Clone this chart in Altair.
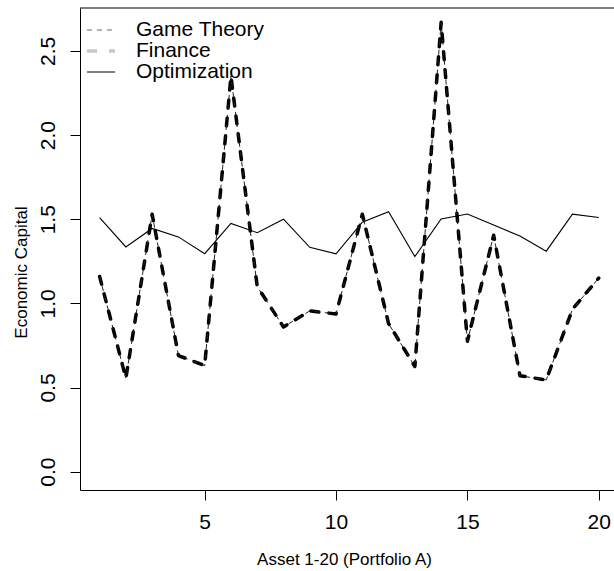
import altair as alt
import pandas as pd

# ---- data ----
x_vals = list(range(1, 21))
game_theory = [1.16, 0.555, 1.53, 0.69, 0.63, 2.35, 1.10, 0.86, 0.955, 0.937,
               1.53, 0.88, 0.625, 2.67, 0.775, 1.405, 0.57, 0.545, 0.965, 1.15]
finance = [1.16, 0.555, 1.53, 0.69, 0.63, 2.35, 1.10, 0.86, 0.955, 0.937,
           1.53, 0.88, 0.625, 2.67, 0.775, 1.405, 0.57, 0.545, 0.965, 1.15]
optimization = [1.51, 1.335, 1.445, 1.395, 1.295, 1.475, 1.42, 1.50, 1.333, 1.294,
                1.482, 1.545, 1.278, 1.502, 1.531, 1.465, 1.40, 1.31, 1.53, 1.51]
series_names = ["Game Theory", "Finance", "Optimization"]
x_ticks = [5, 10, 15, 20]
y_ticks = [0.0, 0.5, 1.0, 1.5, 2.0, 2.5]

df = pd.DataFrame({
    "x": x_vals * 3,
    "value": game_theory + finance + optimization,
    "series": [series_names[0]] * 20 + [series_names[1]] * 20 + [series_names[2]] * 20,
})

FONT = "Liberation Sans"
W, H = 534, 482

x_enc = alt.X(
    "x:Q",
    scale=alt.Scale(domain=[0.254, 20.58], nice=False, zero=False),
    axis=alt.Axis(
        values=x_ticks, title="Asset 1-20 (Portfolio A)", grid=False,
        tickSize=10, labelFontSize=21, labelBaseline="alphabetic", labelPadding=28,
        labelFlush=False, titleFontSize=17, titleBaseline="alphabetic",
        titleX=264, titleY=74, titleAlign="center",
    ),
)
y_enc = alt.Y(
    "value:Q",
    scale=alt.Scale(domain=[-0.109, 2.755], nice=False, zero=False),
    axis=alt.Axis(
        values=y_ticks, format=".1f", title="Economic Capital", grid=False,
        tickSize=10, labelFontSize=21, labelAngle=270, labelAlign="center",
        labelBaseline="alphabetic", labelPadding=16, labelFlush=False,
        titleFontSize=17, titleAngle=270, titleAlign="center",
        titleBaseline="alphabetic", titleX=-54, titleY=264,
    ),
)

base = alt.Chart(df).encode(x=x_enc, y=y_enc)

finance_line = base.transform_filter(alt.datum.series == "Finance").mark_line(
    color="black", strokeWidth=3.5, strokeDash=[8, 10], strokeCap="round", strokeJoin="round"
)
gt_line = base.transform_filter(alt.datum.series == "Game Theory").mark_line(
    color="#222222", strokeWidth=1, strokeDash=[5, 5]
)
opt_line = base.transform_filter(alt.datum.series == "Optimization").mark_line(
    color="black", strokeWidth=1.1
)

leg = alt.Legend(
    orient="none", legendX=5, legendY=12, title=None, padding=0,
    symbolType="stroke", symbolSize=784, clipHeight=20, rowPadding=0,
    labelOffset=19, labelFontSize=21, labelFont=FONT, labelColor="black",
    labelLimit=400,
)
legend_layer = base.transform_filter("datum.value < -10").mark_line().encode(
    color=alt.Color("series:N", scale=alt.Scale(domain=series_names,
                    range=["#666666", "#c8c8c8", "#000000"]), legend=leg),
    strokeDash=alt.StrokeDash("series:N", scale=alt.Scale(domain=series_names,
                    range=[[5, 5], [10, 12], [1, 0]]), legend=leg),
    strokeWidth=alt.StrokeWidth("series:N", scale=alt.Scale(type="ordinal", domain=series_names,
                    range=[1, 3.5, 1.2]), legend=leg),
)

top_rule = alt.Chart(pd.DataFrame({"k": [0]})).mark_rule(color="black", strokeWidth=1).encode(
    y=alt.value(0), x=alt.value(0), x2=alt.value(W)
)

chart = alt.layer(legend_layer, finance_line, gt_line, opt_line, top_rule).properties(
    width=W, height=H,
    padding={"left": 80, "top": 8, "right": 0, "bottom": 81},
    autosize=alt.AutoSizeParams(type="none"),
    background="white",
).configure_view(stroke=None).configure_axis(
    domainColor="black", tickColor="black", labelColor="black", titleColor="black",
    labelFont=FONT, titleFont=FONT, titleFontWeight="normal", domainWidth=1, tickWidth=1,
)

chart.save("out.html", embed_options={"renderer": "svg", "actions": False})
